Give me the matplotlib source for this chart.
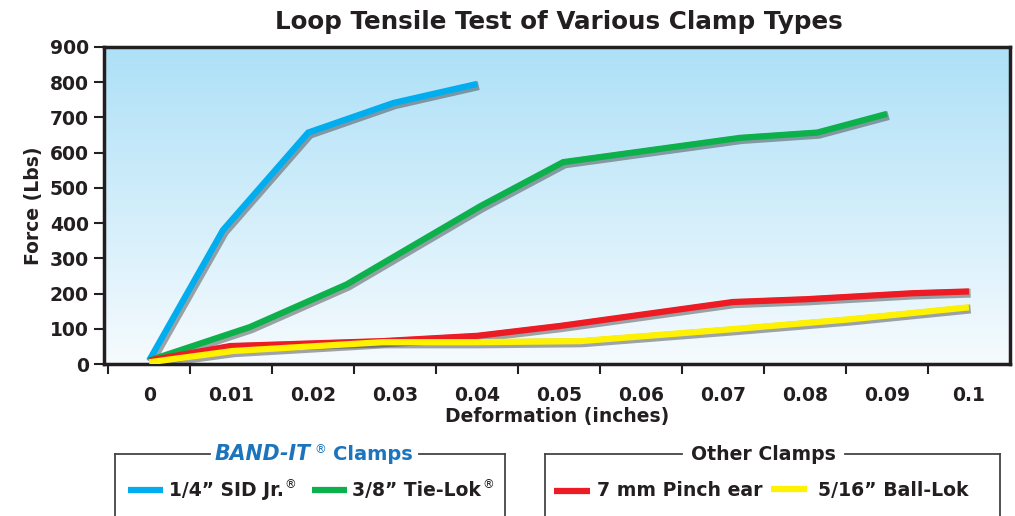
import numpy as np
import matplotlib.pyplot as plt
import matplotlib.patheffects as pe
from matplotlib.colors import LinearSegmentedColormap

plt.rcParams['font.family'] = ['DejaVu Sans']
plt.rcParams['font.weight'] = 'bold'

# dados
sid_x = [0, 0.009, 0.0194, 0.0298, 0.040]
sid_y = [10, 380, 657, 741, 795]
tie_x = [0, 0.0123, 0.0241, 0.0404, 0.0505, 0.0721, 0.0815, 0.090]
tie_y = [10, 105, 226, 448, 573, 642, 657, 710]
pinch_x = [0, 0.0099, 0.0285, 0.040, 0.0501, 0.0712, 0.0802, 0.0932, 0.100]
pinch_y = [10, 51, 65, 80, 108, 176, 184, 201, 206]
ball_x = [0, 0.0102, 0.0285, 0.040, 0.0526, 0.0712, 0.0855, 0.100]
ball_y = [5, 37, 62, 62, 65, 99, 127, 161]

x_ticks = [0, 0.01, 0.02, 0.03, 0.04, 0.05, 0.06, 0.07, 0.08, 0.09, 0.1]
x_labels = ["0", "0.01", "0.02", "0.03", "0.04", "0.05", "0.06", "0.07", "0.08", "0.09", "0.1"]
y_ticks = [0, 100, 200, 300, 400, 500, 600, 700, 800, 900]

c_blue = "#00aeef"
c_green = "#0db14b"
c_red = "#ed1c24"
c_yellow = "#fff200"
c_dark = "#231f20"
FS = 13.5

fig = plt.figure(figsize=(10.15, 5.16), dpi=100)
ax = fig.add_axes([0.1025, 0.2945, 0.8925, 0.6145])

# fundo em degrade
grad = LinearSegmentedColormap.from_list("bg", ["#f6fbfe", "#ade0f7"])
ax.imshow(np.linspace(0, 1, 256).reshape(-1, 1), cmap=grad, aspect="auto",
          extent=(0, 1, 0, 1), transform=ax.transAxes, origin="lower", zorder=0)

shadow = [pe.SimpleLineShadow(offset=(1.2, -1.2), shadow_color="#222222", alpha=0.4, linewidth=6.5), pe.Normal()]
for xs, ys, c in [(sid_x, sid_y, c_blue), (tie_x, tie_y, c_green),
                  (pinch_x, pinch_y, c_red), (ball_x, ball_y, c_yellow)]:
    ax.plot(xs, ys, color=c, lw=4.5, solid_capstyle="butt", solid_joinstyle="miter",
            path_effects=shadow, zorder=3)

ax.set_xlim(-0.0055, 0.1050)
ax.set_ylim(0, 900)
ax.set_yticks(y_ticks)
ax.set_xticks(x_ticks)
ax.set_xticklabels(x_labels)
ax.set_xticks(np.arange(-0.005, 0.1, 0.01), minor=True)
ax.tick_params(axis="x", which="major", length=0, pad=16, labelsize=FS, colors=c_dark)
ax.tick_params(axis="x", which="minor", length=7, width=1.5, color=c_dark)
ax.tick_params(axis="y", length=7, width=1.5, pad=4, labelsize=FS, colors=c_dark)
for lab in ax.get_xticklabels() + ax.get_yticklabels():
    lab.set_fontweight("bold")
for s in ax.spines.values():
    s.set_linewidth(2.5)
    s.set_color(c_dark)

ax.set_xlabel("Deformation (inches)", fontsize=FS, fontweight="bold", color=c_dark, labelpad=1)
ax.set_ylabel("Force (Lbs)", fontsize=FS, fontweight="bold", color=c_dark, labelpad=5)
fig.text(0.551, 0.957, "Loop Tensile Test of Various Clamp Types", ha="center", va="center",
         fontsize=17.7, fontweight="bold", color=c_dark)

# legendas desenhadas a mao
W, H = 1015, 516
def px(x, y):
    return x / W, 1 - y / H

def caixa(x0, x1, y0, gap0, gap1):
    for xa, xb in [(x0, gap0), (gap1, x1)]:
        fig.add_artist(plt.Line2D([px(xa, 0)[0], px(xb, 0)[0]], [px(0, y0)[1]] * 2,
                                  color="#444444", lw=1.3))
    for xv in [x0, x1]:
        fig.add_artist(plt.Line2D([px(xv, 0)[0]] * 2, [px(0, y0)[1], 0], color="#444444", lw=1.3))

caixa(115, 505, 454, 210, 419)
caixa(545, 1000, 454, 682, 845)

def amostra(xa, xb, y, c):
    fig.add_artist(plt.Line2D([px(xa, 0)[0], px(xb, 0)[0]], [px(0, y)[1]] * 2,
                              color=c, lw=4.5, solid_capstyle="butt"))

renderer = fig.canvas.get_renderer()
def depois(t, txt, dy, cor, dx=2, fs=8.5, peso="normal", **kw):
    # coloca o texto logo depois de outro texto
    bb = t.get_window_extent(renderer)
    x = (bb.x1 + dx) / W
    y = 1 - (dy) / H
    return fig.text(x, y, txt, ha="left", va="center", fontsize=fs, color=cor, fontweight=peso, **kw)

t = fig.text(*px(215, 454), "BAND-IT", ha="left", va="center", fontsize=14.8,
             fontweight="heavy", style="italic", color="#1c75bc")
r = depois(t, "®", 450, "#1c75bc", dx=3)
depois(r, "Clamps", 454, "#1c75bc", dx=7, fs=14, peso="bold")
fig.text(*px(763, 454), "Other Clamps", ha="center", va="center", fontsize=13.6, fontweight="bold", color=c_dark)

amostra(128, 163, 490, c_blue)
t = fig.text(*px(169, 491), "1/4\u201d SID Jr.", ha="left", va="center", fontsize=FS, fontweight="bold", color=c_dark)
depois(t, "®", 485, c_dark, dx=1)
amostra(312, 347, 490, c_green)
t = fig.text(*px(352, 491), "3/8\u201d Tie-Lok", ha="left", va="center", fontsize=FS, fontweight="bold", color=c_dark)
depois(t, "®", 485, c_dark, dx=1)
amostra(554, 590, 491, c_red)
fig.text(*px(597, 491), "7 mm Pinch ear", ha="left", va="center", fontsize=13.6, fontweight="bold", color=c_dark)
amostra(771, 807, 489, c_yellow)
fig.text(*px(818, 491), "5/16\u201d Ball-Lok", ha="left", va="center", fontsize=13.6, fontweight="bold", color=c_dark)

plt.savefig("out.png", dpi=100)
